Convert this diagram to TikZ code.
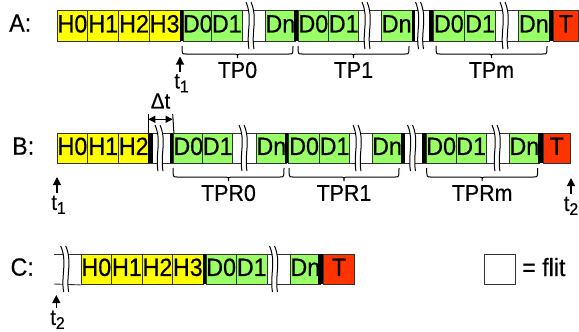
\documentclass[tikz,border=0pt]{standalone}
\usepackage{fontspec}
\setmainfont{Liberation Sans}
\newfontfamily\cf[FakeStretch=0.93,FakeBold=0.4]{Liberation Sans}
\usetikzlibrary{arrows.meta}
\definecolor{hy}{HTML}{FFFF00}
\definecolor{dg}{HTML}{99FF66}
\definecolor{tr}{HTML}{FF3300}
\definecolor{bd}{HTML}{333333}
\tikzset{
  cellst/.style={draw=bd, line width=0.9pt, inner sep=0pt, text height=18pt, text depth=5pt, font=\cf\fontsize{25}{25}\selectfont},
  brkline/.style={draw=black, line width=1pt},
  bracest/.style={draw=black, line width=1pt},
  lab/.style={inner sep=0pt, font=\cf\fontsize{23}{23}\selectfont},
  rowlab/.style={inner sep=0pt, anchor=base west, font=\cf\fontsize{25}{25}\selectfont},
  tlab/.style={inner sep=0pt, anchor=north, font=\cf\fontsize{22}{22}\selectfont},
  tarrow/.style={line width=1.1pt, -{Triangle[length=8pt,width=8pt]}},
}
\newcommand\sub[1]{\raisebox{-4pt}{\fontsize{17}{17}\selectfont #1}}
\newcommand\Cell[7]{\pgfmathsetmacro\cw{#3-#2}\pgfmathsetmacro\ch{#5-#4}%
  \node[cellst, fill=#6, minimum width=\cw pt, minimum height=\ch pt, anchor=north west] (#1) at (#2,#4) {#7};}
\newcommand\Bar[4]{\fill[black] (#1,#3) rectangle (#2,#4);}
\newcommand\Brk[3]{\pgfmathsetmacro\bt{#2-8}\pgfmathsetmacro\bb{#3+8}\pgfmathsetmacro\bh{#3-#2+16}%
  \pgfmathsetmacro\ca{\bt+0.35*\bh}\pgfmathsetmacro\cb{\bb-0.35*\bh}%
  \fill[white] (#1-4,\bt) .. controls (#1+3,\ca) and (#1-4,\cb) .. (#1-1,\bb) -- (#1+4,\bb) .. controls (#1+1,\cb) and (#1+8,\ca) .. (#1+1,\bt) -- cycle;
  \draw[brkline] (#1-4,\bt) .. controls (#1+3,\ca) and (#1-4,\cb) .. (#1-1,\bb);
  \draw[brkline] (#1+1,\bt) .. controls (#1+8,\ca) and (#1+1,\cb) .. (#1+4,\bb);}
\newcommand\Brace[4]{\pgfmathsetmacro\xc{(#1+#2)/2}%
  \draw[bracest] (#1,#3) .. controls (#1,#4) .. (#1+4,#4) -- (\xc-3,#4) .. controls (\xc,#4) .. (\xc,#4+4)
     .. controls (\xc,#4) .. (\xc+3,#4) -- (#2-4,#4) .. controls (#2,#4) .. (#2,#3);}
\begin{document}
\begin{tikzpicture}[x=1pt,y=-1pt]
\useasboundingbox (0,0) rectangle (579,332);
% ---------- Row A ----------
\node[rowlab] (la) at (9,31.7) {A:};
\Cell{a0}{56.7}{87.3}{10}{41}{hy}{H0}
\Cell{a1}{87.3}{118.3}{10}{41}{hy}{H1}
\Cell{a2}{118.3}{149}{10}{41}{hy}{H2}
\Cell{a3}{149}{179.5}{10}{41}{hy}{H3}
\Cell{a4}{182.5}{211}{10}{41}{dg}{D0}
\Cell{a5}{211}{241.7}{10}{41}{dg}{D1}
\Cell{a6}{241.7}{265}{10}{41}{white}{}
\Cell{a7}{265}{294}{10}{41}{dg}{Dn}
\Cell{a8}{297.5}{328.3}{10}{41}{dg}{D0}
\Cell{a9}{328.3}{358.3}{10}{41}{dg}{D1}
\Cell{a10}{358.3}{381}{10}{41}{white}{}
\Cell{a11}{381}{411.5}{10}{41}{dg}{Dn}
\Cell{a12}{411.5}{432.5}{10}{41}{white}{}
\Cell{a13}{432.5}{464.3}{10}{41}{dg}{D0}
\Cell{a14}{464.3}{495}{10}{41}{dg}{D1}
\Cell{a15}{495}{518.3}{10}{41}{white}{}
\Cell{a16}{518.3}{548.5}{10}{41}{dg}{Dn}
\Cell{a17}{552.5}{578}{10}{41}{tr}{T}
\Bar{179.5}{182.5}{10}{41}
\Bar{294}{297.5}{10}{41}
\Bar{411.5}{415}{10}{41}
\Bar{429}{432.5}{10}{41}
\Bar{548.5}{552.5}{10}{41}
\Brk{250}{10}{41}
\Brk{366}{10}{41}
\Brk{419.5}{10}{41}
\Brk{504}{10}{41}
\Brace{182}{293}{46}{54}
\Brace{298}{409}{46}{54}
\Brace{436}{547}{46}{54}
\node[lab] (tp0) at (237.5,70) {TP0};
\node[lab] (tp1) at (353.5,70) {TP1};
\node[lab] (tpm) at (491.5,70) {TPm};
\coordinate (ah1) at (180,56.5);
\coordinate (at1) at (180,72);
\draw[tarrow] (at1) -- (ah1);
\node[tlab] (ta1) at (181.5,74) {t\sub{1}};
% ---------- Row B ----------
\node[rowlab] (lb) at (12,154.7) {B:};
\Cell{b0}{56.7}{87.3}{133}{163}{hy}{H0}
\Cell{b1}{87.3}{118.3}{133}{163}{hy}{H1}
\Cell{b2}{118.3}{148.3}{133}{163}{hy}{H2}
\Cell{b3}{148.3}{173}{133}{163}{white}{}
\Cell{b4}{173}{202.3}{133}{163}{dg}{D0}
\Cell{b5}{202.3}{232.3}{133}{163}{dg}{D1}
\Cell{b6}{232.3}{256}{133}{163}{white}{}
\Cell{b7}{256}{285}{133}{163}{dg}{Dn}
\Cell{b8}{288.3}{319}{133}{163}{dg}{D0}
\Cell{b9}{319}{349.3}{133}{163}{dg}{D1}
\Cell{b10}{349.3}{371.7}{133}{163}{white}{}
\Cell{b11}{371.7}{400.7}{133}{163}{dg}{Dn}
\Cell{b12}{400.7}{425.7}{133}{163}{white}{}
\Cell{b13}{425.7}{455.7}{133}{163}{dg}{D0}
\Cell{b14}{455.7}{485.7}{133}{163}{dg}{D1}
\Cell{b15}{485.7}{509}{133}{163}{white}{}
\Cell{b16}{509}{538.3}{133}{163}{dg}{Dn}
\Cell{b17}{542.7}{570}{133}{163}{tr}{T}
\Bar{148.3}{152.5}{133}{163}
\Bar{170}{173}{133}{163}
\Bar{285}{288.3}{133}{163}
\Bar{400.7}{405}{133}{163}
\Bar{422.3}{425.7}{133}{163}
\Bar{538.3}{542.7}{133}{163}
\Brk{159}{133}{163}
\Brk{243}{133}{163}
\Brk{357}{133}{163}
\Brk{411.5}{133}{163}
\Brk{496}{133}{163}
\Brace{173}{284}{168}{177}
\Brace{289}{399}{168}{177}
\Brace{426.7}{537.7}{168}{177}
\node[lab] (tpr0) at (228.5,193) {TPR0};
\node[lab] (tpr1) at (344,193) {TPR1};
\node[lab] (tprm) at (482.2,193) {TPRm};
% delta t
\coordinate (dl) at (148.3,119.3);
\coordinate (dr) at (172.7,119.3);
\coordinate (dlt) at (148.3,114);
\coordinate (drt) at (172.7,114);
\draw[line width=1pt] (dlt) -- (b3.north west);
\draw[line width=1pt] (drt) -- (b3.north east);
\draw[line width=1pt, {Triangle[length=7pt,width=7pt]}-{Triangle[length=7pt,width=7pt]}] (dl) -- (dr);
\node[inner sep=0pt, font=\cf\fontsize{22}{22}\selectfont] (dt) at (160.5,101) {Δt};
\coordinate (bh1) at (57,177);
\coordinate (bt1) at (57,193);
\draw[tarrow] (bt1) -- (bh1);
\node[tlab] (tb1) at (58.5,195.5) {t\sub{1}};
\coordinate (bh2) at (571,178);
\coordinate (bt2) at (571,194);
\draw[tarrow] (bt2) -- (bh2);
\node[tlab] (tb2) at (571,196.5) {t\sub{2}};
% ---------- Row C ----------
\node[rowlab] (lc) at (10.4,275.7) {C:};
\Cell{c0}{80.7}{111.1}{254}{284}{hy}{H0}
\Cell{c1}{111.1}{141.9}{254}{284}{hy}{H1}
\Cell{c2}{141.9}{172.2}{254}{284}{hy}{H2}
\Cell{c3}{172.2}{202.6}{254}{284}{hy}{H3}
\Cell{c4}{205.5}{235.9}{254}{284}{dg}{D0}
\Cell{c5}{235.9}{266.7}{254}{284}{dg}{D1}
\Cell{c6}{266.7}{290}{254}{284}{white}{}
\Cell{c7}{290}{318.3}{254}{284}{dg}{Dn}
\Cell{c8}{323.3}{353.7}{254}{284}{tr}{T}
\Bar{202.6}{205.5}{254}{284}
\Bar{318.3}{323.3}{254}{284}
\coordinate (cl1) at (54,254);
\coordinate (cl2) at (54,284);
\draw[draw=bd, line width=0.9pt] (cl1) -- (c0.north west);
\draw[draw=bd, line width=0.9pt] (cl2) -- (c0.south west);
\Brk{64.7}{254}{284}
\Brk{273.5}{254}{284}
\coordinate (ch2) at (56.3,295);
\coordinate (ct2) at (56.3,308);
\draw[tarrow] (ct2) -- (ch2);
\node[tlab] (tc2) at (57.5,310.5) {t\sub{2}};
% legend
\Cell{leg}{484}{514.8}{254}{284}{white}{}
\node[rowlab] (legt) at (522,276) {= flit};
\end{tikzpicture}
\end{document}
